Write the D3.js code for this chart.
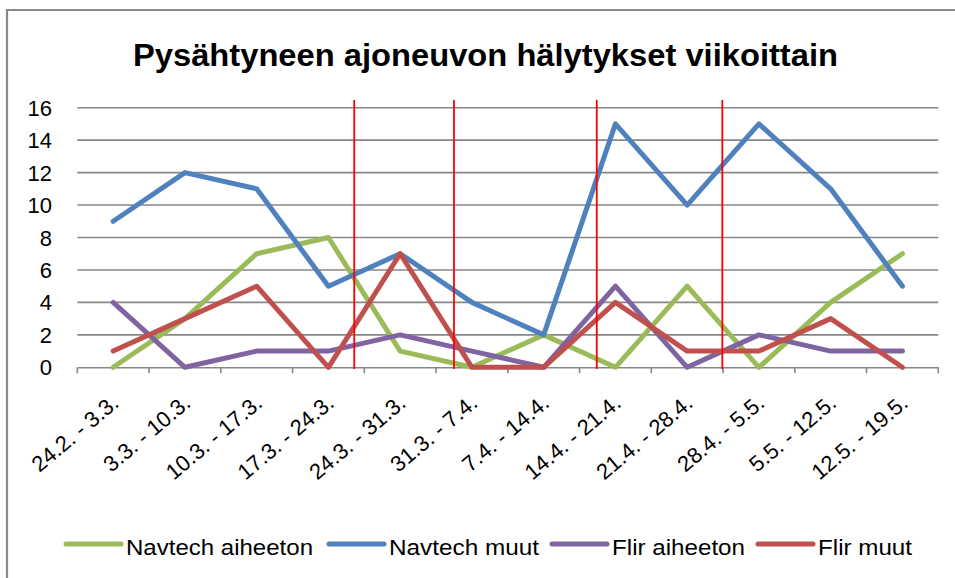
<!DOCTYPE html>
<html>
<head>
<meta charset="utf-8">
<script src="https://cdn.jsdelivr.net/npm/d3@7"></script>
<style>
  html, body { margin: 0; padding: 0; background: #fff; }
  svg { display: block; }
  text { font-family: "Liberation Sans", Arial, sans-serif; fill: #000; }
</style>
</head>
<body>
<svg id="chart" width="955" height="578"></svg>
<script>
const title = "Pysähtyneen ajoneuvon hälytykset viikoittain";
const categories = ["24.2. - 3.3.", "3.3. - 10.3.", "10.3. - 17.3.", "17.3. - 24.3.", "24.3. - 31.3.", "31.3. - 7.4.",
                    "7.4. - 14.4.", "14.4. - 21.4.", "21.4. - 28.4.", "28.4. - 5.5.", "5.5. - 12.5.", "12.5. - 19.5."];
const navtechAiheeton = [0, 3, 7, 8, 1, 0, 2, 0, 5, 0, 4, 7];
const navtechMuut     = [9, 12, 11, 5, 7, 4, 2, 15, 10, 15, 11, 5];
const flirAiheeton    = [4, 0, 1, 1, 2, 1, 0, 5, 0, 2, 1, 1];
const flirMuut        = [1, 3, 5, 0, 7, 0, 0, 4, 1, 1, 3, 0];
const seriesNames  = ["Navtech aiheeton", "Navtech muut", "Flir aiheeton", "Flir muut"];
const yTicks = [0, 2, 4, 6, 8, 10, 12, 14, 16];
// hand-drawn red marker lines, in category-index units
const markerPositions = [3.86, 5.25, 7.24, 8.99];

const seriesValues = [navtechAiheeton, navtechMuut, flirAiheeton, flirMuut];
const colors = ["#9BBB59", "#4F81BD", "#8064A2", "#C0504D"];

const svg = d3.select("#chart");
const plotLeft = 77.3, plotRight = 938.3, plotTop = 107.7, plotBottom = 367.3;

const x = d3.scaleBand().domain(categories).range([plotLeft, plotRight]).paddingInner(0).paddingOuter(0);
const xc = c => x(c) + x.bandwidth() / 2;
const xIdx = d3.scaleLinear().domain([0, categories.length]).range([plotLeft, plotRight]);
const y = d3.scaleLinear().domain([0, 16]).range([plotBottom, plotTop]);

// outer chart border (left and top visible)
svg.append("path")
  .attr("d", "M7,600 L7,10 L960,10")
  .attr("fill", "none").attr("stroke", "#898989").attr("stroke-width", 2.2);

// title
svg.append("text")
  .attr("x", 133).attr("y", 66)
  .attr("font-size", 32).attr("font-weight", "bold")
  .attr("textLength", 705).attr("lengthAdjust", "spacingAndGlyphs")
  .text(title);

// gridlines
svg.append("g").selectAll("line").data(yTicks.filter(d => d > 0)).join("line")
  .attr("x1", plotLeft).attr("x2", plotRight)
  .attr("y1", d => y(d)).attr("y2", d => y(d))
  .attr("stroke", "#878787").attr("stroke-width", 1.6);

// y tick labels
svg.append("g").selectAll("text").data(yTicks).join("text")
  .attr("x", 52).attr("y", d => y(d) + 8)
  .attr("text-anchor", "end").attr("font-size", 22)
  .text(d => d);

// x axis
const xAxis = d3.axisBottom(x).tickSize(0).tickFormat("");
const gx = svg.append("g").attr("transform", `translate(0,${plotBottom})`).call(xAxis);
gx.select(".domain").attr("stroke", "#878787").attr("stroke-width", 1.6);
const boundaries = d3.range(categories.length + 1);
svg.append("g").selectAll("line").data(boundaries).join("line")
  .attr("x1", d => xIdx(d)).attr("x2", d => xIdx(d))
  .attr("y1", plotBottom).attr("y2", plotBottom + 6)
  .attr("stroke", "#878787").attr("stroke-width", 1.6);

// x labels
svg.append("g").selectAll("text").data(categories).join("text")
  .attr("transform", d => `translate(${xc(d) + 7},${plotBottom + 38}) rotate(-40)`)
  .attr("text-anchor", "end").attr("font-size", 22)
  .text(d => d);

// series lines
const line = d3.line().x((d, i) => xc(categories[i])).y(d => y(d));
svg.append("g").selectAll("path").data(seriesValues).join("path")
  .attr("d", d => line(d))
  .attr("fill", "none")
  .attr("stroke", (d, i) => colors[i])
  .attr("stroke-width", 5)
  .attr("stroke-linejoin", "round")
  .attr("stroke-linecap", "round");

// red marker lines
svg.append("g").selectAll("line").data(markerPositions).join("line")
  .attr("x1", d => xIdx(d)).attr("x2", d => xIdx(d))
  .attr("y1", 100).attr("y2", 369)
  .attr("stroke", "#FF0000").attr("stroke-width", 1.8);

// legend
const legendLineX = [66, 329, 552, 758];
const legendTextLen = [187, 150, 133, 94];
const lg = svg.append("g").selectAll("g").data(seriesNames).join("g")
  .attr("transform", (d, i) => `translate(${legendLineX[i]},544)`);
lg.append("line").attr("x1", 0).attr("x2", 55).attr("y1", 0).attr("y2", 0)
  .attr("stroke", (d, i) => colors[i]).attr("stroke-width", 5).attr("stroke-linecap", "round");
lg.append("text").attr("x", 60).attr("y", 11).attr("font-size", 22)
  .attr("textLength", (d, i) => legendTextLen[i]).attr("lengthAdjust", "spacingAndGlyphs")
  .text(d => d);
</script>
</body>
</html>
